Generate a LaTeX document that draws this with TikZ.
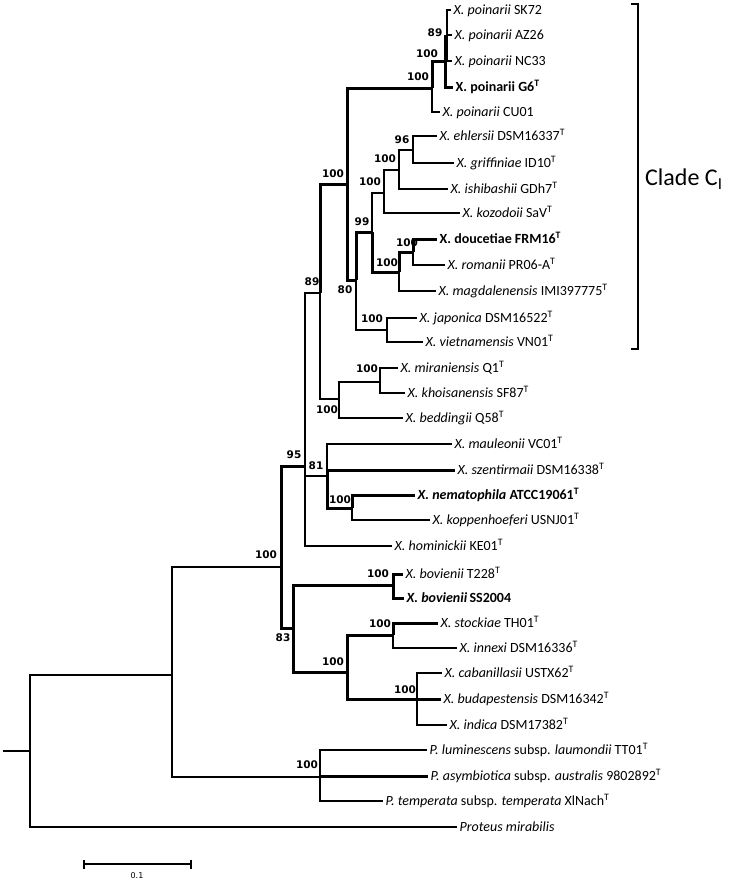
\documentclass[tikz,border=0pt]{standalone}
\usepackage{fontspec}
\setmainfont{Carlito}
\newfontfamily\bootfont{DejaVu Sans}
\newcommand{\typestrain}{\textsuperscript{T}}
\usetikzlibrary{arrows.meta}
\begin{document}
\begin{tikzpicture}[x=1pt, y=-1pt,
  branch/.style={line width=2pt},
  heavy/.style={line width=3pt},
  taxon/.style={anchor=west, inner xsep=2.5pt, inner ysep=0pt, text height=10pt, text depth=1pt, font=\fontsize{14}{16}\selectfont},
  boot/.style={inner sep=0pt, font=\bootfont\bfseries\fontsize{10.5}{12}\selectfont}]
\useasboundingbox (0,0) rectangle (733,881);
% taxa
\node[taxon] (sk72) at (451,10) {\textit{X. poinarii} SK72};
\node[taxon] (az26) at (452,35) {\textit{X. poinarii} AZ26};
\node[taxon] (nc33) at (452,61) {\textit{X. poinarii} NC33};
\node[taxon] (g6) at (453,87) {\textbf{X. poinarii G6\typestrain}};
\node[taxon] (cu01) at (440,112) {\textit{X. poinarii} CU01};
\node[taxon] (ehl) at (437,136) {\textit{X. ehlersii} DSM16337\typestrain};
\node[taxon] (gri) at (454,163) {\textit{X. griffiniae} ID10\typestrain};
\node[taxon] (ish) at (448,189) {\textit{X. ishibashii} GDh7\typestrain};
\node[taxon] (koz) at (460,213) {\textit{X. kozodoii} SaV\typestrain};
\node[taxon] (dou) at (437,239) {\textbf{X. doucetiae FRM16\typestrain}};
\node[taxon] (rom) at (445,265) {\textit{X. romanii} PR06-A\typestrain};
\node[taxon] (mag) at (436,291) {\textit{X. magdalenensis} IMI397775\typestrain};
\node[taxon] (jap) at (417,318) {\textit{X. japonica} DSM16522\typestrain};
\node[taxon] (vie) at (423,342) {\textit{X. vietnamensis} VN01\typestrain};
\node[taxon] (mir) at (398,368) {\textit{X. miraniensis} Q1\typestrain};
\node[taxon] (kho) at (405,393) {\textit{X. khoisanensis} SF87\typestrain};
\node[taxon] (bed) at (403,418) {\textit{X. beddingii} Q58\typestrain};
\node[taxon] (mau) at (452,444) {\textit{X. mauleonii} VC01\typestrain};
\node[taxon] (sze) at (455,470) {\textit{X. szentirmaii} DSM16338\typestrain};
\node[taxon] (nem) at (415,495) {\textbf{\textit{X. nematophila} ATCC19061\typestrain}};
\node[taxon] (kop) at (430,520) {\textit{X. koppenhoeferi} USNJ01\typestrain};
\node[taxon] (hom) at (392,546) {\textit{X. hominickii} KE01\typestrain};
\node[taxon] (bovt) at (403,574) {\textit{X. bovienii} T228\typestrain};
\node[taxon] (bovs) at (404,598) {\textbf{\textit{X. bovienii}\,SS2004}};
\node[taxon] (sto) at (438,623) {\textit{X. stockiae} TH01\typestrain};
\node[taxon] (inn) at (457,648) {\textit{X. innexi} DSM16336\typestrain};
\node[taxon] (cab) at (442,673) {\textit{X. cabanillasii} USTX62\typestrain};
\node[taxon] (bud) at (441,699) {\textit{X. budapestensis} DSM16342\typestrain};
\node[taxon] (ind) at (447,725) {\textit{X. indica} DSM17382\typestrain};
\node[taxon] (lum) at (427,750) {\textit{P. luminescens} subsp. \textit{laumondii} TT01\typestrain};
\node[taxon] (asy) at (428,776) {\textit{P. asymbiotica} subsp. \textit{australis} 9802892\typestrain};
\node[taxon] (tem) at (383,801) {\textit{P. temperata} subsp. \textit{temperata} XlNach\typestrain};
\node[taxon] (pro) at (457,827) {\textit{Proteus mirabilis}};
% internal nodes
\coordinate (stub) at (3,751);
\coordinate (root) at (30,751);
\coordinate (na) at (172,675);
\coordinate (nx) at (281,567);
\coordinate (n95) at (305,466);
\coordinate (n89) at (320,293);
\coordinate (nci) at (347,184);
\coordinate (np1) at (432,88);
\coordinate (np2) at (445,61.5);
\coordinate (np3) at (447,36);
\coordinate (n80) at (356,280);
\coordinate (n99) at (372,232);
\coordinate (nq1) at (384,193);
\coordinate (nq2) at (399,170);
\coordinate (n96) at (413,150);
\coordinate (nr1) at (399,272);
\coordinate (nr2) at (413,252);
\coordinate (njv) at (387,330);
\coordinate (nmb) at (339,399);
\coordinate (nmk) at (380,382);
\coordinate (n81) at (327,476);
\coordinate (nnk) at (352,508);
\coordinate (n83) at (293,628);
\coordinate (nbv) at (393,585);
\coordinate (nsc) at (347,672);
\coordinate (nsi) at (393,635);
\coordinate (ncb) at (417,699);
\coordinate (nph) at (320,777);
% branches
\draw[branch] (stub) -- (root);
\draw[branch] (root) |- (na);
\draw[branch] (root) |- (pro);
\draw[branch] (na) |- (nx);
\draw[branch] (na) |- (nph);
\draw[heavy] (nx) |- (n95);
\draw[heavy] (nx) |- (n83);
\draw[branch] (n95) |- (n89);
\draw[branch] (n95) |- (n81);
\draw[branch] (n95) |- (hom);
\draw[heavy] (n89) |- (nci);
\draw[branch] (n89) |- (nmb);
\draw[heavy] (nci) |- (np1);
\draw[heavy] (nci) |- (n80);
\draw[heavy] (np1) |- (np2);
\draw[branch] (np1) |- (cu01);
\draw[heavy] (np2) |- (np3);
\draw[heavy] (np2) |- (g6);
\draw[branch] (np3) |- (sk72);
\draw[branch] (np3) |- (az26);
\draw[branch] (np3) |- (nc33);
\draw[heavy] (n80) |- (n99);
\draw[branch] (n80) |- (njv);
\draw[branch] (n99) |- (nq1);
\draw[heavy] (n99) |- (nr1);
\draw[branch] (nq1) |- (nq2);
\draw[branch] (nq1) |- (koz);
\draw[branch] (nq2) |- (n96);
\draw[branch] (nq2) |- (ish);
\draw[branch] (n96) |- (ehl);
\draw[branch] (n96) |- (gri);
\draw[heavy] (nr1) |- (nr2);
\draw[branch] (nr1) |- (mag);
\draw[heavy] (nr2) |- (dou);
\draw[branch] (nr2) |- (rom);
\draw[branch] (njv) |- (jap);
\draw[branch] (njv) |- (vie);
\draw[branch] (nmb) |- (nmk);
\draw[branch] (nmb) |- (bed);
\draw[branch] (nmk) |- (mir);
\draw[branch] (nmk) |- (kho);
\draw[branch] (n81) |- (mau);
\draw[heavy] (n81) |- (sze);
\draw[heavy] (n81) |- (nnk);
\draw[heavy] (nnk) |- (nem);
\draw[branch] (nnk) |- (kop);
\draw[heavy] (n83) |- (nbv);
\draw[heavy] (n83) |- (nsc);
\draw[heavy] (nbv) |- (bovt);
\draw[heavy] (nbv) |- (bovs);
\draw[heavy] (nsc) |- (nsi);
\draw[heavy] (nsc) |- (ncb);
\draw[heavy] (nsi) |- (sto);
\draw[branch] (nsi) |- (inn);
\draw[branch] (ncb) |- (cab);
\draw[heavy] (ncb) |- (bud);
\draw[branch] (ncb) |- (ind);
\draw[branch] (nph) |- (lum);
\draw[heavy] (nph) |- (asy);
\draw[branch] (nph) |- (tem);
% bootstrap values
\node[boot] (b1) at (435,33) {89};
\node[boot] (b2) at (427,54) {100};
\node[boot] (b3) at (418,77) {100};
\node[boot] (b4) at (402,140) {96};
\node[boot] (b5) at (385,159) {100};
\node[boot] (b6) at (333,174) {100};
\node[boot] (b7) at (370,182) {100};
\node[boot] (b8) at (362,222) {99};
\node[boot] (b9) at (407,243) {100};
\node[boot] (b10) at (387,263) {100};
\node[boot] (b11) at (312,282) {89};
\node[boot] (b12) at (345,290) {80};
\node[boot] (b13) at (372,319) {100};
\node[boot] (b14) at (367,369) {100};
\node[boot] (b15) at (327,410) {100};
\node[boot] (b16) at (294,455) {95};
\node[boot] (b17) at (316,466) {81};
\node[boot] (b18) at (340,500) {100};
\node[boot] (b19) at (266,555) {100};
\node[boot] (b20) at (378,574) {100};
\node[boot] (b21) at (380,624) {100};
\node[boot] (b22) at (283,638) {83};
\node[boot] (b23) at (333,662) {100};
\node[boot] (b24) at (405,690) {100};
\node[boot] (b25) at (307,765) {100};
% clade bracket
\coordinate (bt) at (631,4);
\coordinate (btc) at (638,4);
\coordinate (bbc) at (638,349);
\coordinate (bb) at (631,349);
\coordinate (bm) at (638,179);
\node[anchor=west, inner xsep=6pt, font=\fontsize{24}{28}\selectfont] (clade) at (639,179) {Clade C\textsubscript{I}};
\draw[branch] (bt) -- (btc) -- (bbc) -- (bb);
\draw[branch] (bm) -- (clade.west);
% scale bar
\coordinate (sbl) at (83,864);
\coordinate (sbr) at (192,864);
\draw[line width=1.6pt, {Bar[width=9pt]}-{Bar[width=9pt]}] (sbl) -- (sbr);
\node[font=\bootfont\fontsize{8}{9}\selectfont, inner sep=0pt] (sbtext) at (137,876) {0.1};
\end{tikzpicture}
\end{document}
